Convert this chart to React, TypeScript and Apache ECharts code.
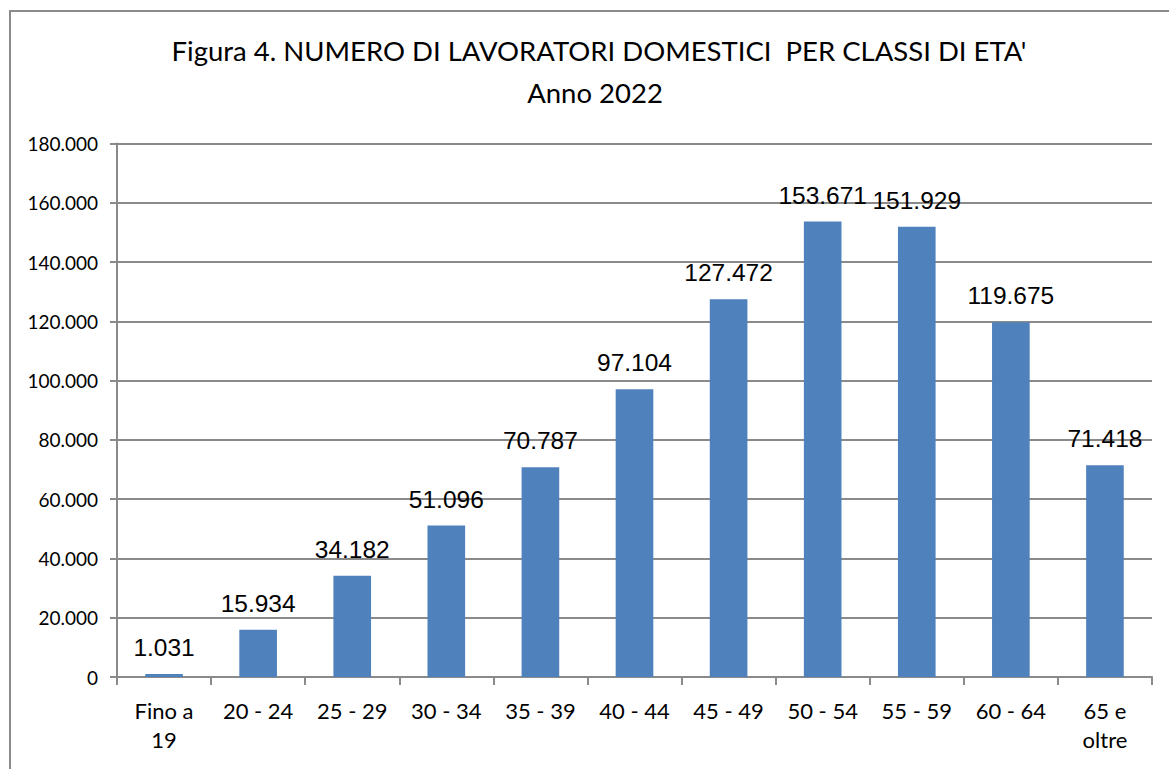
import React, { useEffect, useRef } from "react";
import * as echarts from "echarts";

const categories = ["Fino a\n19", "20 - 24", "25 - 29", "30 - 34", "35 - 39", "40 - 44", "45 - 49", "50 - 54", "55 - 59", "60 - 64", "65 e\noltre"];
const values = [1031, 15934, 34182, 51096, 70787, 97104, 127472, 153671, 151929, 119675, 71418];
const titleLine1 = "Figura 4. NUMERO DI LAVORATORI DOMESTICI  PER CLASSI DI ETA'";
const titleLine2 = "Anno 2022";
const yMax = 180000;
const yStep = 20000;

const fmt = (v: number) => String(Math.round(v)).replace(/\B(?=(\d{3})+(?!\d))/g, ".");

const GRAY = "#8a8a8a";
const TEXT_FONT = "Lato";

export default function App() {
  const ref = useRef<HTMLDivElement>(null);
  useEffect(() => {
    if (!ref.current) return;
    const chart = echarts.init(ref.current, undefined, { renderer: "svg" });
    chart.setOption({
      animation: false,
      backgroundColor: "#ffffff",
      graphic: [
        {
          type: "rect",
          shape: { x: 10, y: 11, width: 1300, height: 900 },
          style: { fill: "none", stroke: GRAY, lineWidth: 2 },
          silent: true,
          z: -10,
        },
        {
          type: "text",
          x: 599,
          y: 50,
          style: {
            text: titleLine1,
            fill: "#000",
            font: `27.5px ${TEXT_FONT}`,
            textAlign: "center",
            textVerticalAlign: "middle",
          },
        },
        {
          type: "text",
          x: 595,
          y: 92,
          style: {
            text: titleLine2,
            fill: "#000",
            font: `27.5px ${TEXT_FONT}`,
            textAlign: "center",
            textVerticalAlign: "middle",
          },
        },
      ],
      grid: { left: 117, right: 17, top: 143.5, bottom: 92, containLabel: false },
      xAxis: {
        type: "category",
        data: categories,
        boundaryGap: true,
        axisLine: { show: true, lineStyle: { color: GRAY, width: 2 } },
        axisTick: { show: true, length: 8, alignWithLabel: false, lineStyle: { color: GRAY, width: 2 } },
        axisLabel: {
          color: "#000",
          fontFamily: TEXT_FONT,
          fontSize: 22,
          margin: 19,
          lineHeight: 29,
          interval: 0,
        },
      },
      yAxis: {
        type: "value",
        min: 0,
        max: yMax,
        interval: yStep,
        axisLine: { show: true, lineStyle: { color: GRAY, width: 2 } },
        axisTick: { show: true, length: 7, lineStyle: { color: GRAY, width: 2 } },
        splitLine: { show: true, lineStyle: { color: GRAY, width: 2 } },
        axisLabel: {
          color: "#000",
          fontFamily: TEXT_FONT,
          fontSize: 19,
          margin: 19,
          formatter: (v: number) => fmt(v),
        },
      },
      series: [
        {
          type: "bar",
          data: values,
          barWidth: "40%",
          itemStyle: { color: "#4f81bd" },
          label: {
            show: true,
            position: "top",
            distance: 14,
            color: "#000",
            fontFamily: "Liberation Sans",
            fontSize: 24.5,
            formatter: (p: any) => fmt(p.value),
          },
        },
      ],
    });
    return () => chart.dispose();
  }, []);
  return <div ref={ref} style={{ position: "fixed", left: 0, top: 0, width: 1169, height: 769 }} />;
}
